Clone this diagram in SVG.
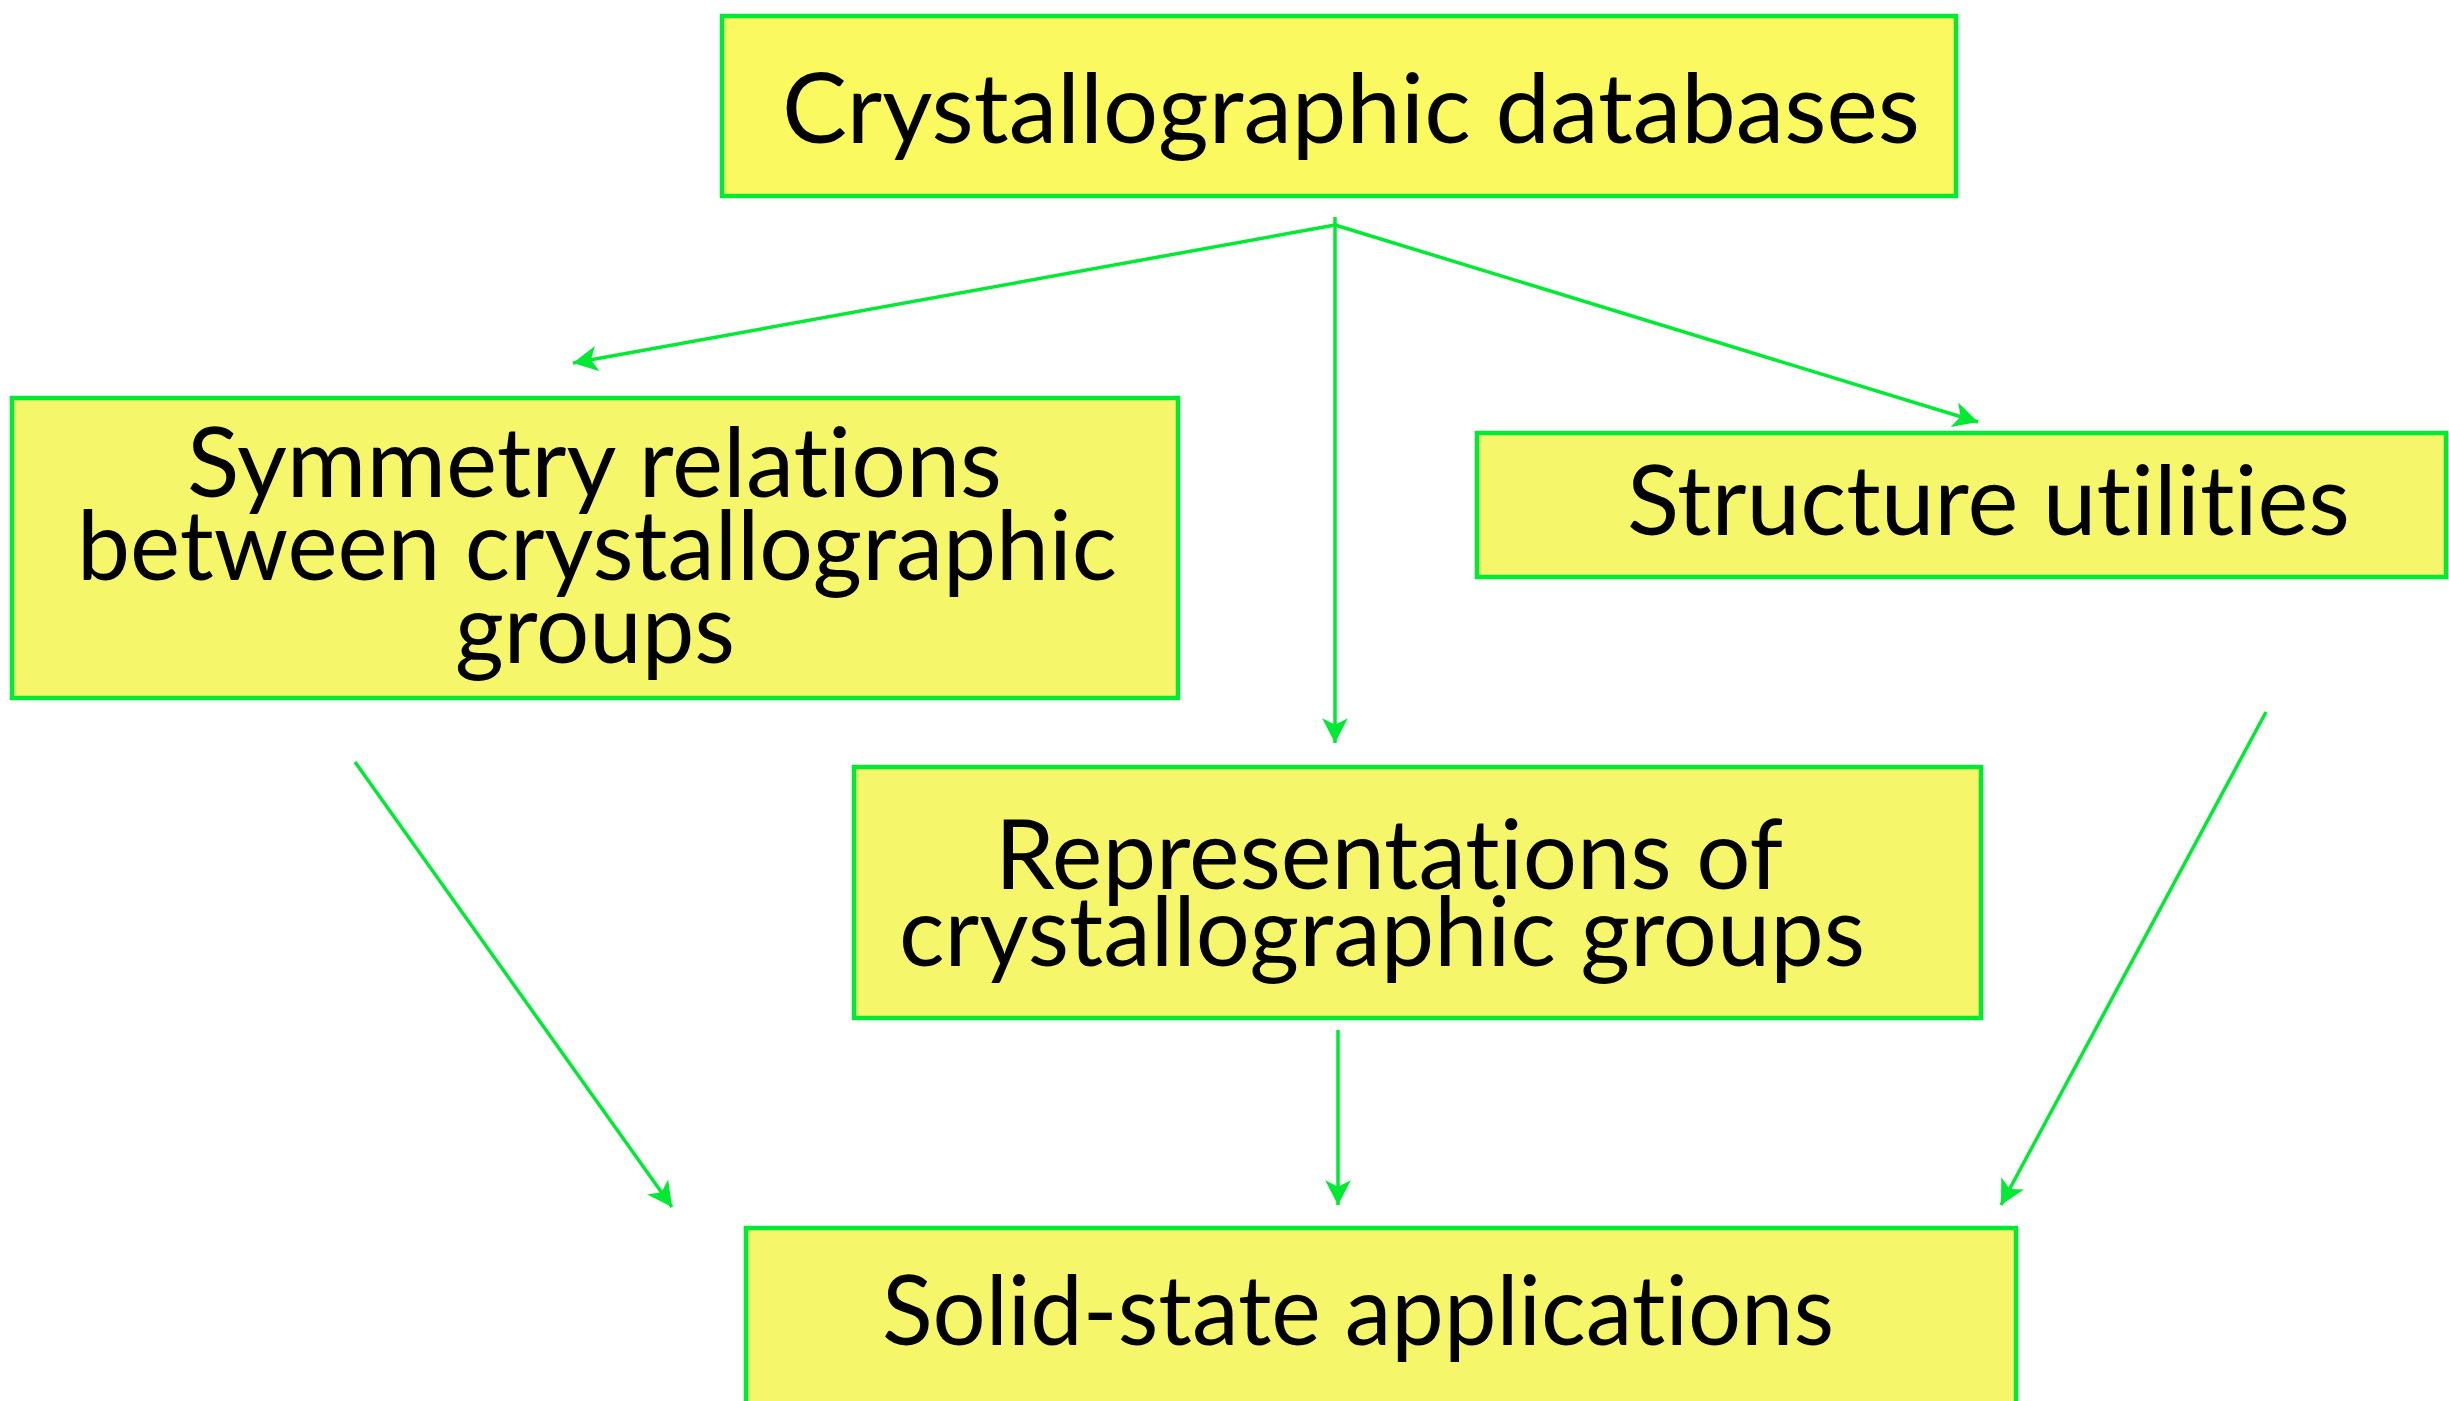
<svg xmlns="http://www.w3.org/2000/svg" width="2449" height="1401" viewBox="0 0 2449 1401">
<style>
.box{fill:#F6F66A;stroke:#00EA33;stroke-width:4.5}
.top{fill:#FAFA60}
.lbl{font-family:Lato,"Open Sans","DejaVu Sans",sans-serif;font-size:96px;fill:#000;font-variant-ligatures:none}
.con{stroke:#00EA33;stroke-width:3.5;fill:none;marker-end:url(#ah)}
</style>
<defs>
<marker id="ah" markerUnits="userSpaceOnUse" markerWidth="30" markerHeight="30" viewBox="-24 -14 26 28" refX="0" refY="0" orient="auto">
<path d="M0,0 L-23,-12 L-17,0 L-23,12 Z" fill="#00EA33"/>
</marker>
</defs>
<rect width="2449" height="1401" fill="#fff"/>
<g id="connectors">
<line class="con" x1="1335" y1="217" x2="1335" y2="743"/>
<line class="con" x1="1335" y1="225" x2="573" y2="363"/>
<line class="con" x1="1335" y1="225" x2="1978" y2="422"/>
<line class="con" x1="355" y1="762" x2="672" y2="1207"/>
<line class="con" x1="1338" y1="1030" x2="1338" y2="1205"/>
<line class="con" x1="2266" y1="712" x2="2001" y2="1205"/>
</g>
<g id="n_databases">
<rect class="box top" x="722" y="16" width="1234" height="180"/>
<text class="lbl" x="782" y="143" textLength="1138" lengthAdjust="spacingAndGlyphs">Crystallographic databases</text>
</g>
<g id="n_symmetry">
<rect class="box" x="12" y="398" width="1166" height="300"/>
<text class="lbl" x="187" y="497" textLength="815" lengthAdjust="spacingAndGlyphs">Symmetry relations</text>
<text class="lbl" x="77" y="580" textLength="1040" lengthAdjust="spacingAndGlyphs">between crystallographic</text>
<text class="lbl" x="455" y="663" textLength="280" lengthAdjust="spacingAndGlyphs">groups</text>
</g>
<g id="n_structure">
<rect class="box" x="1477" y="433" width="969" height="144"/>
<text class="lbl" x="1627" y="535" textLength="723" lengthAdjust="spacingAndGlyphs">Structure utilities</text>
</g>
<g id="n_representations">
<rect class="box" x="854" y="767" width="1127" height="251"/>
<text class="lbl" x="995" y="889" textLength="788" lengthAdjust="spacingAndGlyphs">Representations of</text>
<text class="lbl" x="899" y="966" textLength="966" lengthAdjust="spacingAndGlyphs">crystallographic groups</text>
</g>
<g id="n_solid">
<rect class="box" x="746" y="1228" width="1270" height="200"/>
<text class="lbl" x="882" y="1345" textLength="952" lengthAdjust="spacingAndGlyphs">Solid-state applications</text>
</g>
</svg>
